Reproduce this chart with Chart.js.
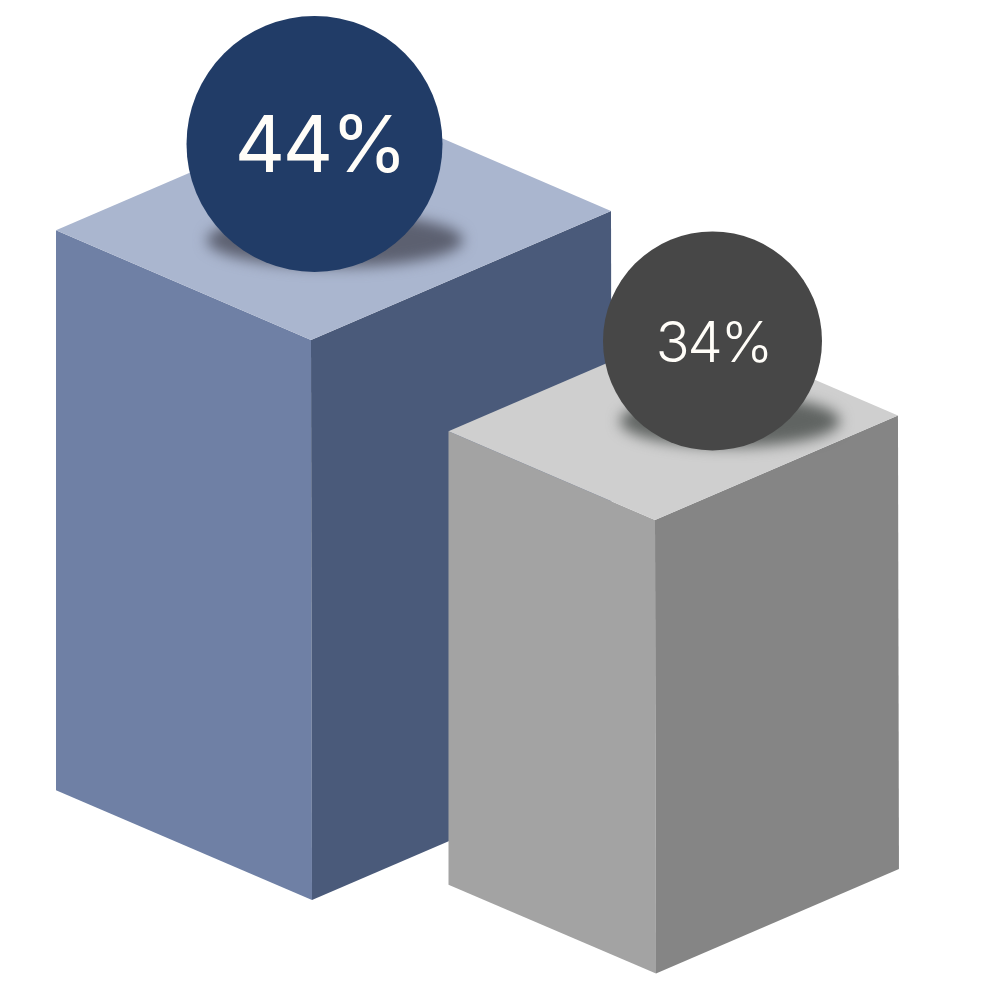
<!DOCTYPE html>
<html>
<head>
<meta charset="utf-8">
<style>
  html, body { margin: 0; padding: 0; background: #fff; }
  canvas { display: block; }
</style>
<script src="https://cdn.jsdelivr.net/npm/chart.js@4/dist/chart.umd.min.js"></script>
</head>
<body>
<canvas id="isoChart" width="1000" height="1000"></canvas>
<script>
var categories = ["Blue", "Gray"];
var blueValues = [44, null];
var grayValues = [null, 34];

// box proportions, all relative to the bar height
var LEFT_RUN = 255 / 560;
var RIGHT_RUN = 300 / 560;
var SLOPE = 0.43;

// draws the box + ball instead of the flat bar
var isoBars = {
    id: "isoBars",
    beforeDatasetDraw: function (chart, args) {
        var ds = chart.data.datasets[args.index];
        var bar = args.meta.data[ds.data.findIndex(function (v) { return v !== null; })];
        var ctx = chart.ctx;
        var x = bar.x, top = bar.y, base = bar.base;
        var h = base - top;
        var lw = h * LEFT_RUN, rw = h * RIGHT_RUN;

        function face(color, pts) {
            ctx.beginPath();
            ctx.moveTo(pts[0][0], pts[0][1]);
            for (var i = 1; i < pts.length; i++) ctx.lineTo(pts[i][0], pts[i][1]);
            ctx.closePath();
            ctx.fillStyle = color;
            ctx.fill();
        }

        ctx.save();
        face(ds.leftColor, [[x - lw, top - lw * SLOPE], [x, top], [x + 1, base], [x - lw, base - lw * SLOPE]]);
        face(ds.rightColor, [[x, top], [x + rw, top - rw * SLOPE], [x + rw + 1, base - rw * SLOPE], [x + 1, base]]);
        face(ds.topColor, [[x - lw, top - lw * SLOPE], [x, top], [x + rw, top - rw * SLOPE], [x + rw - lw, top - (rw + lw) * SLOPE]]);

        // soft shadow under the ball
        var b = ds.ball;
        ctx.save();
        ctx.filter = "blur(7px)";
        ctx.fillStyle = b.shadowColor;
        ctx.beginPath();
        ctx.ellipse(x + b.shadowDx, top + b.shadowDy, b.shadowRx, b.shadowRy, 0, 0, Math.PI * 2);
        ctx.fill();
        ctx.restore();

        ctx.fillStyle = b.color;
        ctx.beginPath();
        ctx.arc(x + b.dx, top + b.dy, b.r, 0, Math.PI * 2);
        ctx.fill();

        ctx.fillStyle = "#fffdf8";
        ctx.font = b.fontWeight + " " + b.fontSize + 'px Inter, "Liberation Sans", sans-serif';
        ctx.letterSpacing = b.spacing + "px";
        ctx.textAlign = "center";
        ctx.textBaseline = "alphabetic";
        ctx.fillText(ds.data.find(function (v) { return v !== null; }) + "%", x + b.dx + b.textDx, top + b.dy + b.textDy);
        ctx.restore();
        return false;
    }
};

new Chart(document.getElementById("isoChart").getContext("2d"), {
    type: "bar",
    plugins: [isoBars],
    data: {
        labels: categories,
        datasets: [{
            data: blueValues,
            yAxisID: "yBlue",
            grouped: false,
            order: 2,
            leftColor: "#6f80a5",
            rightColor: "#4a5a7a",
            topColor: "#aab6cf",
            ball: { dx: 3.5, dy: -196, r: 128, color: "#213c67", fontSize: 78, fontWeight: 400, spacing: -2.3, textDx: 5.5, textDy: 28,
                shadowDx: 24, shadowDy: -100, shadowRx: 128, shadowRy: 27, shadowColor: "#5c6070" }
        }, {
            data: grayValues,
            yAxisID: "yGray",
            grouped: false,
            order: 1,
            leftColor: "#a3a3a3",
            rightColor: "#858585",
            topColor: "#cfcfcf",
            ball: { dx: 57.5, dy: -179, r: 109.5, color: "#474747", fontSize: 56, fontWeight: 300, spacing: -2, textDx: 1, textDy: 21,
                shadowDx: 75, shadowDy: -99, shadowRx: 110, shadowRy: 26, shadowColor: "#606462" }
        }]
    },
    options: {
        responsive: false,
        animation: false,
        layout: { padding: { left: 139, right: 173, top: 0, bottom: 0 } },
        plugins: {
            legend: { display: false },
            tooltip: { enabled: false }
        },
        scales: {
            x: { display: false, offset: true },
            yBlue: { display: false, min: -7.857, max: 70.714 },
            yGray: { display: false, min: -1.987, max: 72.98 }
        }
    }
});
</script>
</body>
</html>
